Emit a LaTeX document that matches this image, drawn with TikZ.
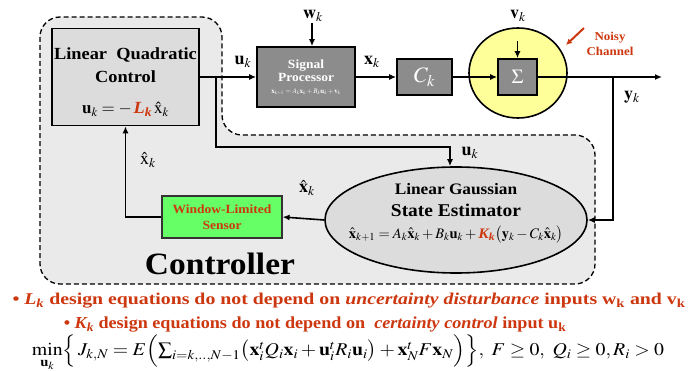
\documentclass[tikz,border=0pt]{standalone}
\usepackage{amsmath}
\usepackage{graphicx}
\usepackage{mathptmx}
\usepackage{fontspec}
\setmainfont[FakeStretch=1.08]{Liberation Serif}
\newfontfamily\widefont[FakeStretch=1.2]{Liberation Serif}
\usetikzlibrary{arrows.meta,shapes.geometric,positioning}

\definecolor{accent}{RGB}{205,55,15}
\definecolor{ctrlfill}{RGB}{234,234,234}
\definecolor{boxfill}{RGB}{220,220,220}
\definecolor{procfill}{RGB}{140,140,140}
\definecolor{chanfill}{RGB}{255,255,153}
\definecolor{sensfill}{RGB}{102,255,102}

\newcommand{\fsz}[2]{\fontsize{#1}{#2}\selectfont}
\newcommand{\bsub}[2]{\ensuremath{\text{\bfseries\itshape #1}_{\text{\bfseries\itshape #2}}}}

\begin{document}
\begin{tikzpicture}[x=1pt,y=-1pt,>={Latex[length=7pt,width=6pt]},
  wire/.style={line width=1.6pt},
  ctrlbg/.style={dashed,line width=1.3pt,fill=ctrlfill,dash pattern=on 5pt off 3pt},
  lqbox/.style={draw,line width=1.6pt,fill=boxfill,align=center,inner sep=0pt},
  procbox/.style={draw,line width=1.6pt,fill=procfill,text=white,align=center,inner sep=0pt},
  sensbox/.style={draw=black!80,line width=1.2pt,fill=sensfill,text=accent,align=center,inner sep=0pt},
  lbl/.style={inner sep=1pt,font=\fsz{18}{20}},
  note/.style={inner sep=0pt,text=accent}]
\useasboundingbox (0,0) rectangle (690,371);

% Controller region
\draw[ctrlbg] (40,150) [rounded corners=20] -- (40,17) -- (222,17) -- (222,135)
  -- (595,135) -- (595,284) -- (40,284) -- cycle;
\node[font=\fsz{31}{33}\bfseries] (ctrl) at (220,264) {Controller};

% Blocks
\node[lqbox,minimum width=147pt,minimum height=97pt] (lq) at (125.5,77) {};
\node[align=center,inner sep=0pt,font=\fsz{17}{23}\bfseries] (lqtext) at (125.5,82)
  {Linear~~Quadratic\\Control\\[8pt]
   $\mathbf{u}_k = -\,\textcolor{accent}{\bsub{L}{k}}\,\hat{\mathrm{x}}_k$};
\node[procbox,minimum width=98pt,minimum height=60pt,font=\fsz{12.5}{13}\bfseries] (sp) at (306,77)
  {Signal\\Processor\\[-1pt]
   \fsz{7}{8}$\mathbf{x}_{k+1}=A_k\mathbf{x}_k+B_k\mathbf{u}_k+\mathbf{v}_k$};
\node[procbox,minimum width=55pt,minimum height=36pt] (ck) at (424.5,77) {\fsz{22}{24}$C_k$};
\node[ellipse,draw,line width=1.6pt,fill=chanfill,minimum width=98pt,minimum height=90pt,inner sep=0pt] (chan) at (518,73) {};
\node[procbox,minimum width=39pt,minimum height=36pt] (sig) at (517.5,77) {\fsz{20}{22}$\Sigma$};
\node[ellipse,draw,line width=1.6pt,fill=boxfill,minimum width=262pt,minimum height=106pt,inner sep=0pt] (est) at (456,220) {};
\node[align=center,inner sep=0pt,font=\bfseries\fsz{16}{22}] (esttext) at (456,213)
  {Linear Gaussian\\\fsz{18}{22}State Estimator\\
   \fsz{14.5}{22}$\hat{\mathbf{x}}_{k+1}=A_k\hat{\mathbf{x}}_k+B_k\mathbf{u}_k+\textcolor{accent}{\bsub{K}{k}}\bigl(\mathbf{y}_k-C_k\hat{\mathbf{x}}_k\bigr)$};
\node[sensbox,minimum width=120pt,minimum height=42pt,font=\fsz{12.5}{16}\bfseries] (sensor) at (222,217)
  {Window-Limited\\Sensor};

% Labels
\node[lbl] (w) at (313,16) {$\mathbf{w}_k$};
\node[lbl] (v) at (518,16) {$\mathbf{v}_k$};
\node[lbl] (ulbl) at (243,62) {$\mathbf{u}_k$};
\node[lbl] (xlbl) at (372,62) {$\mathbf{x}_k$};
\node[lbl] (ylbl) at (632,97) {$\mathbf{y}_k$};
\node[lbl] (uest) at (470,153) {$\mathbf{u}_k$};
\node[lbl] (xest) at (307,188) {$\hat{\mathbf{x}}_k$};
\node[lbl] (xlq) at (148,160) {$\hat{\mathrm{x}}_k$};
\node[align=center,text=accent,font=\fsz{12}{15}\bfseries,inner sep=0pt] (noisy) at (610,44) {Noisy\\Channel};

% Connectors
\coordinate (ubr) at (216,77);
\coordinate (uin) at (450,147);
\coordinate (ybr) at (613,77);
\coordinate (yout) at (662,77);
\coordinate (ntail) at (584,28);
\coordinate (ntip) at (566,45);
\draw[wire,->] (lq) -- (sp);
\draw[wire,->] (ubr) |- (uin) -- (uin |- est.north);
\draw[wire,->] (w.south -| 312,0) -- (312,0 |- sp.north);
\draw[wire,->] (sp) -- (ck);
\draw[wire,->] (ck) -- (sig);
\draw[wire,->] ([yshift=17pt]sig.north) -- (sig.north);
\draw[wire,->] (sig) -- (yout);
\draw[wire,->] (ybr) |- (est.east);
\draw[wire,->] (est.west) -- (sensor.east);
\draw[wire,->] (sensor.west) -| (lq.south);
\draw[line width=2pt,accent,-{Latex[length=6pt,width=6pt]}] (ntail) -- (ntip);

% Notes
\node[note,font=\widefont\fsz{16.5}{18}\bfseries] (n1) at (349,301) {\textbullet\ \bsub{L}{k} design equations do not depend on \textit{uncertainty disturbance} inputs w\textsubscript{k} and v\textsubscript{k}};
\node[note,font=\fsz{16.8}{18}\bfseries] (n2) at (315,325) {\textbullet\ \bsub{K}{k} design equations do not depend on~ \textit{certainty control} input u\textsubscript{k}};
\node[inner sep=0pt] (cost) at (348,353) {\scalebox{1.1}[1]{\fsz{18}{20}$\displaystyle\min_{\mathbf{u}_k}\Bigl\{\,J_{k,N}=E\Bigl(\textstyle\sum_{i=k,..,N-1}\bigl(\mathbf{x}_i^tQ_i\mathbf{x}_i+\mathbf{u}_i^tR_i\mathbf{u}_i\bigr)+\mathbf{x}_N^tF\mathbf{x}_N\Bigr)\Bigr\},\ F\geq0,\ Q_i\geq0,R_i>0$}};
\end{tikzpicture}
\end{document}
